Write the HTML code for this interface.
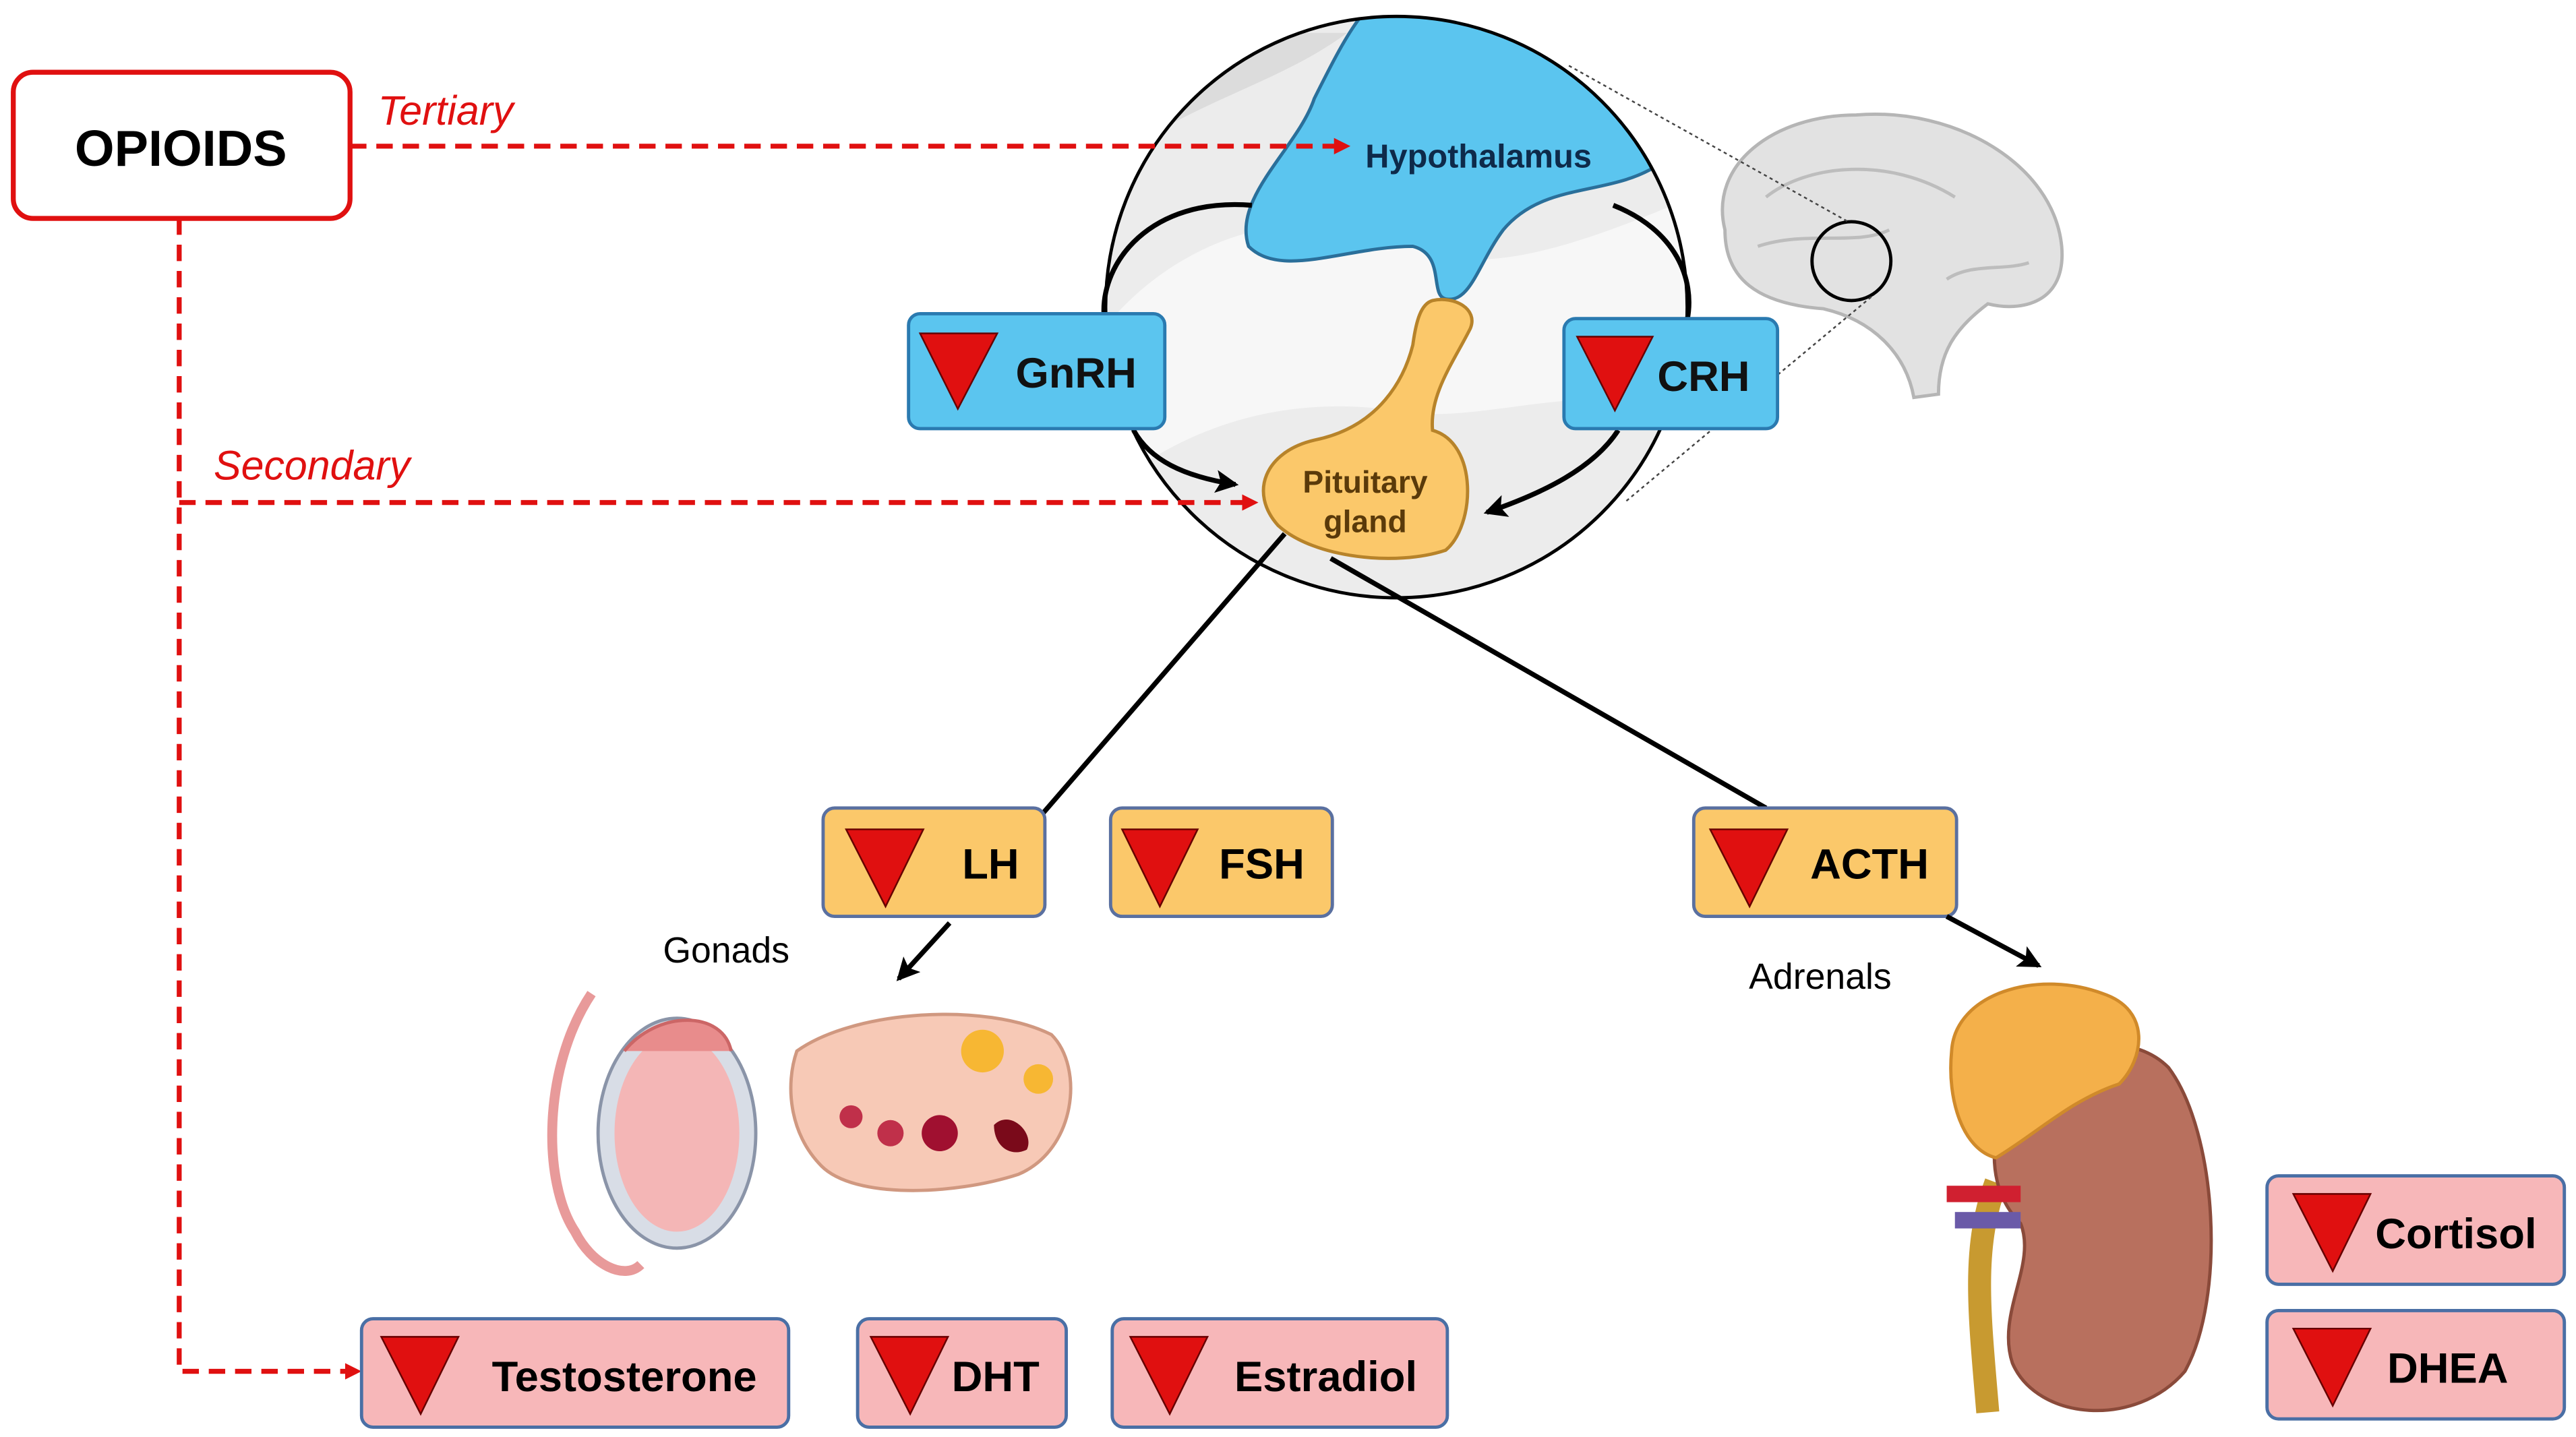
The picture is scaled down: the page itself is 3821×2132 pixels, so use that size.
<!DOCTYPE html>
<html><head><meta charset="utf-8"><style>
html,body{margin:0;padding:0;background:#fff;}
svg{display:block;}
text{font-family:"Liberation Sans",sans-serif;}
</style></head><body>
<svg width="3821" height="2132" viewBox="0 0 1568 875" xmlns="http://www.w3.org/2000/svg">
<defs>
<marker id="ar" markerWidth="10" markerHeight="10" refX="8" refY="5" orient="auto" markerUnits="userSpaceOnUse"><path d="M0,0 L10,5 L0,10 z" fill="#e01010"/></marker>
<marker id="ab" markerWidth="14" markerHeight="14" refX="12" refY="7" orient="auto" markerUnits="userSpaceOnUse"><path d="M0,0 L14,7 L0,14 L3,7 z" fill="#000"/></marker>
<clipPath id="cc"><circle cx="850" cy="187" r="177"/></clipPath>
</defs>

<!-- big circle -->
<circle cx="850" cy="187" r="177" fill="#ececec"/>
<g clip-path="url(#cc)">
<path d="M672,200 C720,140 800,120 860,150 C900,170 960,150 1030,120 L1030,250 C960,230 900,260 850,250 C780,240 720,260 672,300 z" fill="#f7f7f7"/>
<path d="M672,100 C730,60 780,50 820,20 L672,20 z" fill="#dcdcdc"/>
<path d="M830,8 L1000,8 L1010,100 C980,120 940,110 915,140 C900,160 895,185 880,182 C870,180 880,155 860,150 C820,150 780,170 760,150 C750,120 790,90 800,60 C810,40 820,20 830,8 z" fill="#5bc5ef" stroke="#2a6f9a" stroke-width="2"/>
</g>
<circle cx="850" cy="187" r="177" fill="none" stroke="#000" stroke-width="2"/>
<text x="900" y="102" font-size="20" font-weight="bold" fill="#0e2a4a" text-anchor="middle">Hypothalamus</text>
<!-- pituitary -->
<path d="M872,183 C885,180 900,188 895,200 C885,220 870,240 872,262 C900,270 898,320 880,335 C850,345 800,340 778,320 C760,300 770,275 800,268 C840,260 855,230 860,210 C862,195 865,185 872,183 z" fill="#fbc86a" stroke="#b7832a" stroke-width="2"/>
<text x="831" y="300" font-size="19" font-weight="bold" fill="#5a3a0a" text-anchor="middle">Pituitary</text>
<text x="831" y="324" font-size="19" font-weight="bold" fill="#5a3a0a" text-anchor="middle">gland</text>
<!-- feedback curves -->
<path d="M762,125 C700,120 670,160 672,192" fill="none" stroke="#000" stroke-width="3"/>
<path d="M690,262 C700,280 720,290 752,295" fill="none" stroke="#000" stroke-width="3" marker-end="url(#ab)"/>
<path d="M982,125 C1020,140 1032,170 1027,195" fill="none" stroke="#000" stroke-width="3"/>
<path d="M985,262 C970,285 940,300 905,312" fill="none" stroke="#000" stroke-width="3" marker-end="url(#ab)"/>

<!-- brain -->
<path d="M1050,140 C1040,100 1080,70 1130,70 C1190,65 1250,100 1255,150 C1258,185 1230,190 1210,185 C1190,200 1180,215 1180,240 L1165,242 C1160,215 1140,195 1110,188 C1070,185 1050,170 1050,140 z" fill="#e2e2e2" stroke="#b5b5b5" stroke-width="2"/>
<path d="M1075,120 C1100,100 1150,95 1190,120 M1070,150 C1100,140 1130,150 1150,140 M1185,170 C1200,160 1220,165 1235,160" fill="none" stroke="#bdbdbd" stroke-width="2"/>
<circle cx="1127" cy="159" r="24" fill="none" stroke="#000" stroke-width="2"/>
<line x1="955" y1="40" x2="1125" y2="135" stroke="#444" stroke-width="1" stroke-dasharray="2,2"/>
<line x1="990" y1="305" x2="1140" y2="180" stroke="#444" stroke-width="1" stroke-dasharray="2,2"/>

<!-- opioids -->
<rect x="8" y="44" width="205" height="89" rx="12" fill="#fff" stroke="#e01010" stroke-width="3"/>
<text x="110" y="101" font-size="31" font-weight="bold" text-anchor="middle">OPIOIDS</text>
<text x="230" y="76" font-size="25" font-style="italic" fill="#e01010">Tertiary</text>
<line x1="213" y1="89" x2="820" y2="89" stroke="#e01010" stroke-width="3" stroke-dasharray="10,6" marker-end="url(#ar)"/>
<text x="130" y="292" font-size="25" font-style="italic" fill="#e01010">Secondary</text>
<polyline points="109,133 109,835 218,835" fill="none" stroke="#e01010" stroke-width="3" stroke-dasharray="10,6" marker-end="url(#ar)"/>
<line x1="109" y1="306" x2="764" y2="306" stroke="#e01010" stroke-width="3" stroke-dasharray="10,6" marker-end="url(#ar)"/>

<!-- boxes blue -->
<rect x="553" y="191" width="156" height="70" rx="7" fill="#5bc5ef" stroke="#2a7ab0" stroke-width="2"/>
<path d="M560,203 L607,203 L583,249 z" fill="#e01010" stroke="#600" stroke-width="1"/>
<text x="655" y="236" font-size="26" font-weight="bold" fill="#111" text-anchor="middle">GnRH</text>
<rect x="952" y="194" width="130" height="67" rx="7" fill="#5bc5ef" stroke="#2a7ab0" stroke-width="2"/>
<path d="M960,205 L1006,205 L983,250 z" fill="#e01010" stroke="#600" stroke-width="1"/>
<text x="1037" y="238" font-size="26" font-weight="bold" fill="#111" text-anchor="middle">CRH</text>

<!-- lines -->
<line x1="782" y1="325" x2="635" y2="495" stroke="#000" stroke-width="3"/>
<line x1="810" y1="340" x2="1075" y2="492" stroke="#000" stroke-width="3"/>

<!-- orange boxes -->
<g stroke="#5a70a0" stroke-width="2" fill="#fbc86a">
<rect x="501" y="492" width="135" height="66" rx="7"/>
<rect x="676" y="492" width="135" height="66" rx="7"/>
<rect x="1031" y="492" width="160" height="66" rx="7"/>
</g>
<g fill="#e01010" stroke="#600" stroke-width="1">
<path d="M515,505 L562,505 L539,552 z"/>
<path d="M683,505 L729,505 L706,552 z"/>
<path d="M1041,505 L1088,505 L1065,552 z"/>
</g>
<text x="603" y="535" font-size="26" font-weight="bold" text-anchor="middle">LH</text>
<text x="768" y="535" font-size="26" font-weight="bold" text-anchor="middle">FSH</text>
<text x="1138" y="535" font-size="26" font-weight="bold" text-anchor="middle">ACTH</text>

<text x="442" y="586" font-size="22" text-anchor="middle">Gonads</text>
<line x1="578" y1="562" x2="547" y2="596" stroke="#000" stroke-width="3" marker-end="url(#ab)"/>
<text x="1108" y="602" font-size="22" text-anchor="middle">Adrenals</text>
<line x1="1185" y1="558" x2="1241" y2="588" stroke="#000" stroke-width="3" marker-end="url(#ab)"/>

<!-- testis -->
<path d="M360,605 C330,650 330,720 350,750 C360,770 380,780 390,770" fill="none" stroke="#e89a9a" stroke-width="6"/>
<ellipse cx="412" cy="690" rx="48" ry="70" fill="#d8dde6" stroke="#8a94a8" stroke-width="2"/>
<ellipse cx="412" cy="690" rx="38" ry="60" fill="#f4b6b6"/>
<path d="M380,640 C400,615 440,615 445,640" fill="#e88c8c" stroke="#c66" stroke-width="2"/>
<!-- ovary -->
<path d="M485,640 C520,615 600,610 640,630 C660,650 655,700 620,715 C580,728 520,730 500,710 C480,690 478,660 485,640 z" fill="#f7c9b6" stroke="#d09880" stroke-width="2"/>
<circle cx="598" cy="640" r="13" fill="#f7b733"/>
<circle cx="632" cy="657" r="9" fill="#f7b733"/>
<circle cx="518" cy="680" r="7" fill="#c0304a"/>
<circle cx="542" cy="690" r="8" fill="#c0304a"/>
<circle cx="572" cy="690" r="11" fill="#a01030"/>
<path d="M605,685 C615,675 630,690 625,700 C615,705 605,698 605,685z" fill="#7a0a1a"/>

<!-- kidney -->
<path d="M1215,720 C1200,760 1205,800 1210,860" fill="none" stroke="#c89a30" stroke-width="14"/>
<path d="M1215,690 C1220,640 1290,620 1320,650 C1350,690 1355,790 1330,835 C1300,870 1240,865 1225,830 C1215,800 1240,770 1230,745 C1215,730 1212,710 1215,690z" fill="#b8705e" stroke="#8a4a3a" stroke-width="2"/>
<path d="M1188,640 C1190,605 1240,590 1280,605 C1310,615 1305,645 1290,660 C1260,670 1240,690 1215,705 C1195,700 1185,670 1188,640z" fill="#f4b04a" stroke="#d08a2a" stroke-width="2"/>
<rect x="1185" y="722" width="45" height="10" fill="#d02030"/>
<rect x="1190" y="738" width="40" height="10" fill="#6a5aa8"/>

<!-- pink boxes -->
<g stroke="#4a6fa5" stroke-width="2" fill="#f7b7b9">
<rect x="220" y="803" width="260" height="66" rx="7"/>
<rect x="522" y="803" width="127" height="66" rx="7"/>
<rect x="677" y="803" width="204" height="66" rx="7"/>
<rect x="1380" y="716" width="181" height="66" rx="7"/>
<rect x="1380" y="798" width="181" height="66" rx="7"/>
</g>
<g fill="#e01010" stroke="#600" stroke-width="1">
<path d="M232,814 L279,814 L256,861 z"/>
<path d="M530,814 L577,814 L554,861 z"/>
<path d="M688,814 L735,814 L712,861 z"/>
<path d="M1396,727 L1443,727 L1420,774 z"/>
<path d="M1396,809 L1443,809 L1420,856 z"/>
</g>
<text x="380" y="847" font-size="26" font-weight="bold" text-anchor="middle">Testosterone</text>
<text x="606" y="847" font-size="26" font-weight="bold" text-anchor="middle">DHT</text>
<text x="807" y="847" font-size="26" font-weight="bold" text-anchor="middle">Estradiol</text>
<text x="1495" y="760" font-size="26" font-weight="bold" text-anchor="middle">Cortisol</text>
<text x="1490" y="842" font-size="26" font-weight="bold" text-anchor="middle">DHEA</text>
</svg>
</body></html>
